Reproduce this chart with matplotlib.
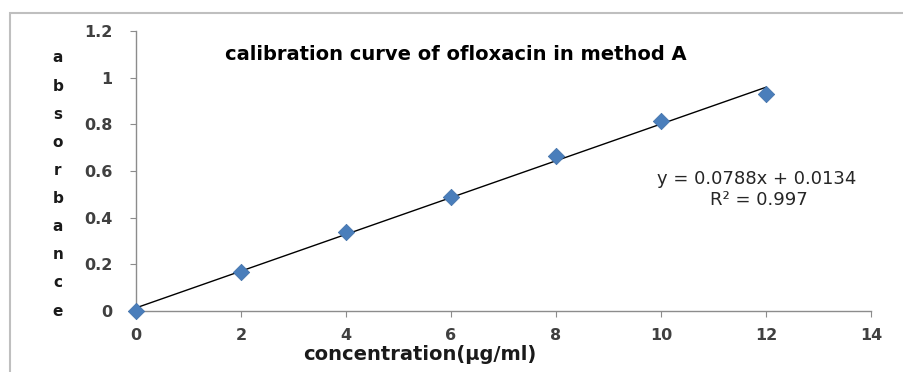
import matplotlib
matplotlib.use("Agg")
import matplotlib.pyplot as plt
from matplotlib.patches import Rectangle
import numpy as np

concentration = [0, 2, 4, 6, 8, 10, 12]
absorbance = [0.0, 0.167, 0.338, 0.489, 0.664, 0.814, 0.929]
slope = 0.0788
intercept = 0.0134
r2 = 0.997
x_ticks = [0, 2, 4, 6, 8, 10, 12, 14]
y_ticks = [0, 0.2, 0.4, 0.6, 0.8, 1.0, 1.2]
y_tick_labels = ["0", "0.2", "0.4", "0.6", "0.8", "1", "1.2"]
title = "calibration curve of ofloxacin in method A"
xlabel = "concentration(\u03bcg/ml)"
ylabel = "absorbance"

plt.rcParams['font.family'] = ['DejaVu Sans']

fig = plt.figure(figsize=(9.04, 3.72), dpi=100)
fig.patch.set_facecolor('white')

# outer frame
fig.patches.append(Rectangle((10/904, -0.05), 1.0, 1 - 13/372 + 0.05,
                             transform=fig.transFigure, fill=False,
                             edgecolor='#bfbfbf', linewidth=1.5))

ax = fig.add_axes([136/904, 61/372, 735/904, 280/372])
ax.set_xlim(0, 14)
ax.set_ylim(0, 1.2)

xfit = np.array([concentration[0], concentration[-1]])
ax.plot(xfit, slope * xfit + intercept, color='black', linewidth=1.0, zorder=2)
ax.scatter(concentration, absorbance, marker='D', s=70, color='#4a7ebb',
           edgecolors='#3f6fa8', linewidths=0.5, zorder=3, clip_on=False)

for s in ['top', 'right']:
    ax.spines[s].set_visible(False)
for s in ['left', 'bottom']:
    ax.spines[s].set_color('#8c8c8c')
    ax.spines[s].set_linewidth(1.0)

ax.set_xticks(x_ticks)
ax.set_xticklabels([str(v) for v in x_ticks], fontsize=11.5, fontweight='bold', color='#404040')
ax.set_yticks(y_ticks)
ax.set_yticklabels(y_tick_labels, fontsize=11.5, fontweight='bold', color='#404040')
ax.tick_params(axis='both', direction='out', length=4, color='#8c8c8c')
ax.tick_params(axis='x', pad=8)
ax.tick_params(axis='y', pad=13)

fig.text(456/904, 1 - 55/372, title, ha='center', va='center', fontsize=14, fontweight='bold', color='black')
fig.text(420/904, 1 - 355/372, xlabel, ha='center', va='center', fontsize=14, fontweight='bold', color='#1a1a1a')

# stacked vertical y label
y_top, y_bot = 58, 311
n = len(ylabel)
for i, ch in enumerate(ylabel):
    yp = y_top + i * (y_bot - y_top) / (n - 1)
    fig.text(58/904, 1 - yp/372, ch, ha='center', va='center', fontsize=11, fontweight='bold', color='#1a1a1a')

eq = "y = {:.4f}x + {:.4f}".format(slope, intercept)
fig.text(757/904, 1 - 179/372, eq, ha='center', va='center', fontsize=13, color='#262626')
fig.text(759/904, 1 - 200/372, "R\u00b2 = {}".format(r2), ha='center', va='center', fontsize=13, color='#262626')

fig.savefig("out.png", dpi=100, facecolor='white')
